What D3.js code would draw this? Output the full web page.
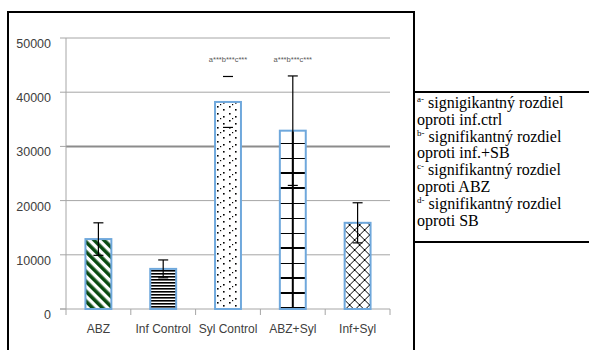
<!DOCTYPE html>
<html>
<head>
<meta charset="utf-8">
<script src="https://cdn.jsdelivr.net/npm/d3@7"></script>
<style>
  html, body { margin: 0; padding: 0; background: #fff; }
  svg { display: block; }
</style>
</head>
<body>
<svg id="chart" width="589" height="350"></svg>
<script>
// Groups, means and error half-widths
const categories = ["ABZ", "Inf Control", "Syl Control", "ABZ+Syl", "Inf+Syl"];
const means = [12900, 7400, 38200, 32900, 15900];
const errors = [3000, 1650, 4700, 10100, 3700];
const significance = ["", "", "a***b***c***", "a***b***c***", ""];
const yTicks = [0, 10000, 20000, 30000, 40000, 50000];
const legendLines = [
  { sup: "a-", text: " signigikantný rozdiel" },
  { sup: "", text: "oproti inf.ctrl" },
  { sup: "b-", text: " signifikantný rozdiel" },
  { sup: "", text: "oproti inf.+SB" },
  { sup: "c-", text: " signifikantný rozdiel" },
  { sup: "", text: "oproti ABZ" },
  { sup: "d-", text: " signifikantný rozdiel" },
  { sup: "", text: "oproti SB" }
];

const svg = d3.select("#chart");
const plot = { left: 66, right: 390, top: 38, bottom: 309 };

const x = d3.scaleBand().domain(categories).range([plot.left, plot.right]).paddingInner(0.6).paddingOuter(0.3);
const xb = d3.scaleBand().domain(categories).range([plot.left, plot.right]);
const y = d3.scaleLinear().domain([0, 50000]).range([plot.bottom, plot.top]);

// ---- fill patterns ----
const defs = svg.append("defs");

// wide dark green diagonal stripes
const pStripe = defs.append("pattern").attr("id", "p0").attr("patternUnits", "userSpaceOnUse")
  .attr("width", 7).attr("height", 7).attr("patternTransform", "rotate(-45)");
pStripe.append("rect").attr("width", 7).attr("height", 7).attr("fill", "#fff");
pStripe.append("rect").attr("width", 3.6).attr("height", 7).attr("fill", "#0a4a12");

// dense horizontal lines
const pHoriz = defs.append("pattern").attr("id", "p1").attr("patternUnits", "userSpaceOnUse")
  .attr("width", 6).attr("height", 3);
pHoriz.append("rect").attr("width", 6).attr("height", 3).attr("fill", "#fff");
pHoriz.append("rect").attr("width", 6).attr("height", 1.6).attr("fill", "#000");

// sparse dots
const pDots = defs.append("pattern").attr("id", "p2").attr("patternUnits", "userSpaceOnUse")
  .attr("width", 12).attr("height", 14);
pDots.append("rect").attr("width", 12).attr("height", 14).attr("fill", "#fff");
[[1, 1], [7, 4], [1, 8], [7, 11], [4, 6]].forEach(([dx, dy], i) => {
  pDots.append("rect").attr("x", dx).attr("y", dy).attr("width", i === 4 ? 1.2 : 1.6).attr("height", i === 4 ? 1.2 : 1.6).attr("fill", "#000");
});

// large grid, one vertical rule down the middle of the bar
const gx = x(categories[3]);
const pGrid = defs.append("pattern").attr("id", "p3").attr("patternUnits", "userSpaceOnUse")
  .attr("x", gx).attr("y", plot.bottom - 2).attr("width", x.bandwidth()).attr("height", 15);
pGrid.append("rect").attr("width", x.bandwidth()).attr("height", 15).attr("fill", "#fff");
pGrid.append("rect").attr("width", x.bandwidth()).attr("height", 2).attr("fill", "#000");
pGrid.append("rect").attr("x", x.bandwidth() / 2 - 1).attr("width", 2).attr("height", 15).attr("fill", "#000");

// diamond lattice
const pLat = defs.append("pattern").attr("id", "p4").attr("patternUnits", "userSpaceOnUse")
  .attr("x", x(categories[4])).attr("width", 10).attr("height", 10);
pLat.append("rect").attr("width", 10).attr("height", 10).attr("fill", "#fff");
pLat.append("path").attr("d", "M0,0L10,10M10,0L0,10").attr("stroke", "#000").attr("stroke-width", 1);

// ---- gridlines ----
svg.append("g").selectAll("line").data(yTicks.filter(t => t > 0)).join("line")
  .attr("x1", plot.left).attr("x2", plot.right)
  .attr("y1", d => y(d)).attr("y2", d => y(d))
  .attr("stroke", d => d === 30000 ? "#8c8c8c" : "#a6a6a6")
  .attr("stroke-width", d => d === 30000 ? 2 : 1);

// ---- axes ----
const axisColor = "#a6a6a6";
svg.append("line").attr("x1", plot.left).attr("x2", plot.left).attr("y1", plot.top).attr("y2", plot.bottom)
  .attr("stroke", axisColor);
svg.append("g").selectAll("line").data(yTicks).join("line")
  .attr("x1", plot.left - 6).attr("x2", plot.left)
  .attr("y1", d => y(d)).attr("y2", d => y(d)).attr("stroke", axisColor);
svg.append("g").selectAll("text").data(yTicks).join("text")
  .attr("x", plot.left - 15).attr("y", d => y(d) + 10)
  .attr("text-anchor", "end").attr("font-family", "Liberation Sans, sans-serif")
  .attr("font-size", 12.5).attr("fill", "#404040")
  .text(d => d);

svg.append("line").attr("x1", plot.left - 6).attr("x2", plot.right).attr("y1", plot.bottom).attr("y2", plot.bottom)
  .attr("stroke", axisColor);
const bounds = categories.map(c => xb(c)).concat([plot.right]);
svg.append("g").selectAll("line").data(bounds).join("line")
  .attr("x1", d => d).attr("x2", d => d).attr("y1", plot.bottom).attr("y2", plot.bottom + 6)
  .attr("stroke", axisColor);
svg.append("g").selectAll("text").data(categories).join("text")
  .attr("x", d => xb(d) + xb.bandwidth() / 2).attr("y", plot.bottom + 24)
  .attr("text-anchor", "middle").attr("font-family", "Liberation Sans, sans-serif")
  .attr("font-size", 12).attr("fill", "#404040")
  .text(d => d);

// ---- bars ----
svg.append("g").selectAll("rect").data(categories).join("rect")
  .attr("x", d => x(d)).attr("width", x.bandwidth())
  .attr("y", (d, i) => y(means[i])).attr("height", (d, i) => y(0) - y(means[i]))
  .attr("fill", (d, i) => `url(#p${i})`)
  .attr("stroke", "#6fa8dc").attr("stroke-width", 2);

// ---- error bars ----
const eb = svg.append("g").attr("stroke", "#000").attr("stroke-width", 1.2);
categories.forEach((c, i) => {
  const cx = x(c) + x.bandwidth() / 2;
  const hi = y(means[i] + errors[i]);
  const lo = y(means[i] - errors[i]);
  if (i !== 2) eb.append("line").attr("x1", cx).attr("x2", cx).attr("y1", hi).attr("y2", lo);
  eb.append("line").attr("x1", cx - 5).attr("x2", cx + 5).attr("y1", hi).attr("y2", hi);
  eb.append("line").attr("x1", cx - 5).attr("x2", cx + 5).attr("y1", lo).attr("y2", lo);
});

// ---- significance marks ----
svg.append("g").selectAll("text").data(categories).join("text")
  .attr("x", d => x(d) + x.bandwidth() / 2).attr("y", y(45500))
  .attr("text-anchor", "middle").attr("font-family", "Liberation Sans, sans-serif")
  .attr("font-size", 7.5).attr("fill", "#595959")
  .text((d, i) => significance[i]);

// ---- frames ----
svg.append("path").attr("d", "M8,352V12H414V352").attr("fill", "none").attr("stroke", "#000").attr("stroke-width", 2);
svg.append("line").attr("x1", 414).attr("x2", 590).attr("y1", 92).attr("y2", 92).attr("stroke", "#000").attr("stroke-width", 2);
svg.append("line").attr("x1", 414).attr("x2", 590).attr("y1", 242).attr("y2", 242).attr("stroke", "#000").attr("stroke-width", 2);

// ---- legend notes ----
const notes = svg.append("g").attr("font-family", "Liberation Serif, serif").attr("fill", "#000");
legendLines.forEach((l, i) => {
  const t = notes.append("text").attr("x", 417).attr("y", 108 + i * 16.8).attr("font-size", 16);
  if (l.sup) {
    t.append("tspan").attr("font-size", 9).attr("dy", -6).text(l.sup);
    t.append("tspan").attr("dy", 6).text(l.text);
  } else {
    t.text(l.text);
  }
});
</script>
</body>
</html>
